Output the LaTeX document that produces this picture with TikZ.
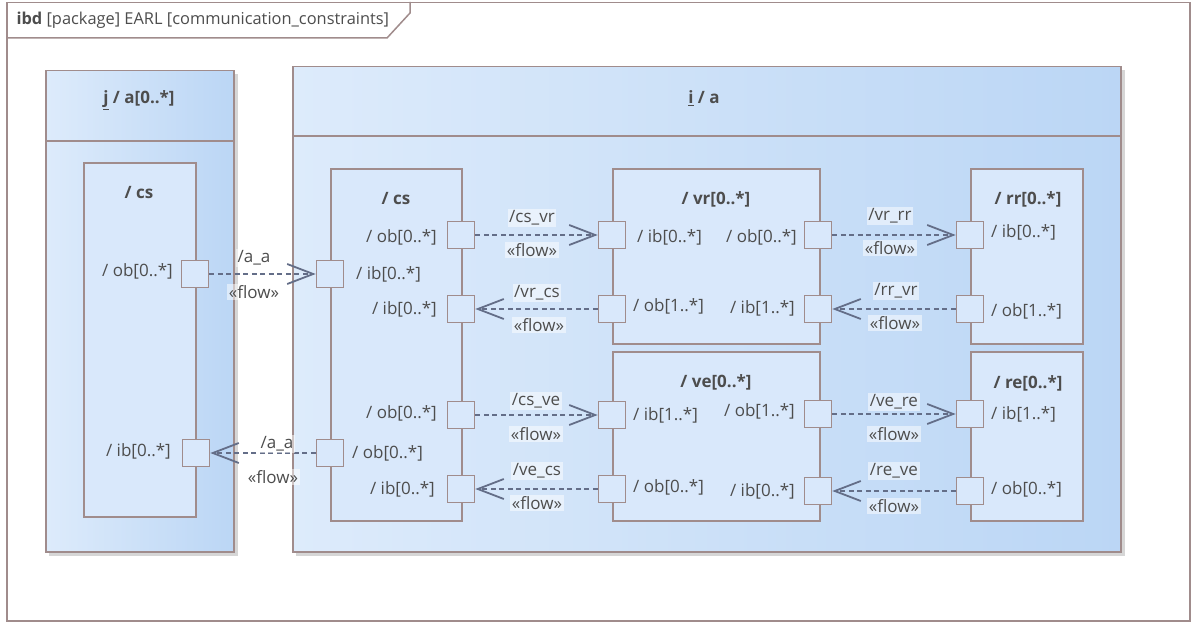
\documentclass[tikz,border=0pt]{standalone}
\usepackage{fontspec}
\setmainfont{Open Sans}
\usetikzlibrary{arrows.meta}
\definecolor{bord}{HTML}{A08C8C}
\definecolor{txt}{HTML}{4D4D4D}
\definecolor{lgL}{HTML}{DDEBFB}
\definecolor{lgR}{HTML}{BBD6F5}
\definecolor{inner}{HTML}{D9E8FB}
\definecolor{flowc}{HTML}{646E88}
\definecolor{shad}{HTML}{D6D6D6}
\tikzset{
  base/.style={font=\fontsize{17}{20}\selectfont, text=txt},
  block/.style={draw=bord, line width=1.5pt, left color=lgL, right color=lgR, rectangle, inner sep=0pt, anchor=north west},
  part/.style={draw=bord, line width=1.5pt, fill=inner, rectangle, inner sep=0pt, anchor=north west},
  port/.style={draw=bord, line width=1.6pt, fill=inner, rectangle, minimum size=27pt, inner sep=0pt},
  flow/.style={draw=flowc, line width=1.4pt, dash pattern=on 5pt off 3.5pt,
    -{Straight Barb[length=26pt,width=20pt,line width=1.8pt]}},
  flbl/.style={base, fill=white, fill opacity=0.5, text opacity=1, inner sep=1.5pt},
  ttl/.style={base, font=\fontsize{17}{20}\selectfont\bfseries},
  lblL/.style={base, anchor=east, inner sep=0pt},
  lblR/.style={base, anchor=west, inner sep=0pt},
}
\begin{document}
\begin{tikzpicture}[x=1pt,y=-1pt]
\useasboundingbox (0,0) rectangle (1194,623);
% outer frame
\node[draw=bord, line width=1.5pt, fill=white, anchor=north west, minimum width=1183pt, minimum height=618pt, inner sep=0pt] (frame) at (6,2) {};
\draw[bord, line width=1.5pt] (6,38) -- (387,38) -- (410,13) -- (410,2);
\node[base, font=\fontsize{16.4}{19}\selectfont, anchor=west] (ftitle) at (13,20) {\textbf{ibd} [package] EARL [communication\_constraints]};

% shadows
\fill[shad] (49,74) rectangle (238,556);
\fill[shad] (296,70) rectangle (1125,556);

% left block
\node[block, minimum width=188pt, minimum height=481pt] (ja) at (45,70) {};
\draw[bord, line width=1.5pt] (ja.north west |- 0,141) -- (ja.north east |- 0,141);
\node[ttl] (jatitle) at (139,100) {\underline{j} / a[0..*]};

% right block
\node[block, minimum width=828pt, minimum height=485pt] (ia) at (292,66) {};
\draw[bord, line width=1.5pt] (ia.north west |- 0,136) -- (ia.north east |- 0,136);
\node[ttl] (iatitle) at (704,98) {\underline{i} / a};

% parts
\node[part, minimum width=112pt, minimum height=354pt] (csL) at (83,162) {};
\node[ttl] (csLt) at (139,193) {/ cs};
\node[part, minimum width=131pt, minimum height=352pt] (csR) at (330,168) {};
\node[ttl] (csRt) at (396,199) {/ cs};
\node[part, minimum width=207pt, minimum height=175pt] (vr) at (612,168) {};
\node[ttl] (vrt) at (716,199) {/ vr[0..*]};
\node[part, minimum width=207pt, minimum height=169pt] (ve) at (612,351) {};
\node[ttl] (vet) at (716,382) {/ ve[0..*]};
\node[part, minimum width=112pt, minimum height=175pt] (rr) at (970,168) {};
\node[ttl] (rrt) at (1028,199) {/ rr[0..*]};
\node[part, minimum width=112pt, minimum height=169pt] (re) at (970,351) {};
\node[ttl] (ret) at (1028,383) {/ re[0..*]};

% ports
\node[port] (pLob) at (195,274) {};
\node[port] (pLib) at (196,453) {};
\node[port] (cIb) at (330,274) {};
\node[port] (cOb2) at (330,453) {};
\node[port] (cOb) at (461,235) {};
\node[port] (cIb2) at (461,309) {};
\node[port] (cOb3) at (461,415) {};
\node[port] (cIb3) at (461,489) {};
\node[port] (vIb) at (612,235) {};
\node[port] (vOb1) at (612,309) {};
\node[port] (vOb) at (818,235) {};
\node[port] (vIb1) at (818,309) {};
\node[port] (eIb1) at (612,415) {};
\node[port] (eOb0) at (612,489) {};
\node[port] (eOb1) at (818,414) {};
\node[port] (eIb0) at (818,491) {};
\node[port] (rIb) at (970,235) {};
\node[port] (rOb) at (970,309) {};
\node[port] (reIb) at (970,414) {};
\node[port] (reOb) at (970,491) {};

% port labels
\node[lblL] (l1) at (173,271) {/ ob[0..*]};
\node[lblL] (l2) at (171,451) {/ ib[0..*]};
\node[lblR] (l3) at (356,274) {/ ib[0..*]};
\node[lblL] (l4) at (437,237) {/ ob[0..*]};
\node[lblL] (l5) at (437,309) {/ ib[0..*]};
\node[lblL] (l6) at (437,413) {/ ob[0..*]};
\node[lblR] (l7) at (352,453) {/ ob[0..*]};
\node[lblL] (l8) at (435,489) {/ ib[0..*]};
\node[lblR] (l9) at (637,237) {/ ib[0..*]};
\node[lblL] (l10) at (797,237) {/ ob[0..*]};
\node[lblR] (l11) at (633,306) {/ ob[1..*]};
\node[lblL] (l12) at (795,308) {/ ib[1..*]};
\node[lblR] (l13) at (633,415) {/ ib[1..*]};
\node[lblL] (l14) at (795,411) {/ ob[1..*]};
\node[lblR] (l15) at (633,487) {/ ob[0..*]};
\node[lblL] (l16) at (795,491) {/ ib[0..*]};
\node[lblR] (l17) at (991,232) {/ ib[0..*]};
\node[lblR] (l18) at (991,311) {/ ob[1..*]};
\node[lblR] (l19) at (991,414) {/ ib[1..*]};
\node[lblR] (l20) at (991,489) {/ ob[0..*]};

% flows
\draw[flow] (pLob.east) -- (cIb.west);
\draw[flow] (cOb2.west) -- (pLib.east);
\draw[flow] (cOb.east) -- (vIb.west);
\draw[flow] (vOb1.west) -- (cIb2.east);
\draw[flow] (vOb.east) -- (rIb.west);
\draw[flow] (rOb.west) -- (vIb1.east);
\draw[flow] (cOb3.east) -- (eIb1.west);
\draw[flow] (eOb0.west) -- (cIb3.east);
\draw[flow] (eOb1.east) -- (reIb.west);
\draw[flow] (reOb.west) -- (eIb0.east);

% flow labels
\node[flbl] (f1a) at (254,258) {/a\_a};
\node[flbl] (f1b) at (254,292) {«flow»};
\node[flbl] (f2a) at (277,444) {/a\_a};
\node[flbl] (f2b) at (273,477) {«flow»};
\node[flbl] (f3a) at (532,218) {/cs\_vr};
\node[flbl] (f3b) at (532,250) {«flow»};
\node[flbl] (f4a) at (537,293) {/vr\_cs};
\node[flbl] (f4b) at (539,325) {«flow»};
\node[flbl] (f5a) at (890,216) {/vr\_rr};
\node[flbl] (f5b) at (890,248) {«flow»};
\node[flbl] (f6a) at (896,291) {/rr\_vr};
\node[flbl] (f6b) at (895,323) {«flow»};
\node[flbl] (f7a) at (536,401) {/cs\_ve};
\node[flbl] (f7b) at (536,434) {«flow»};
\node[flbl] (f8a) at (537,471) {/ve\_cs};
\node[flbl] (f8b) at (537,503) {«flow»};
\node[flbl] (f9a) at (894,402) {/ve\_re};
\node[flbl] (f9b) at (894,434) {«flow»};
\node[flbl] (f10a) at (894,471) {/re\_ve};
\node[flbl] (f10b) at (894,506) {«flow»};
\end{tikzpicture}
\end{document}
